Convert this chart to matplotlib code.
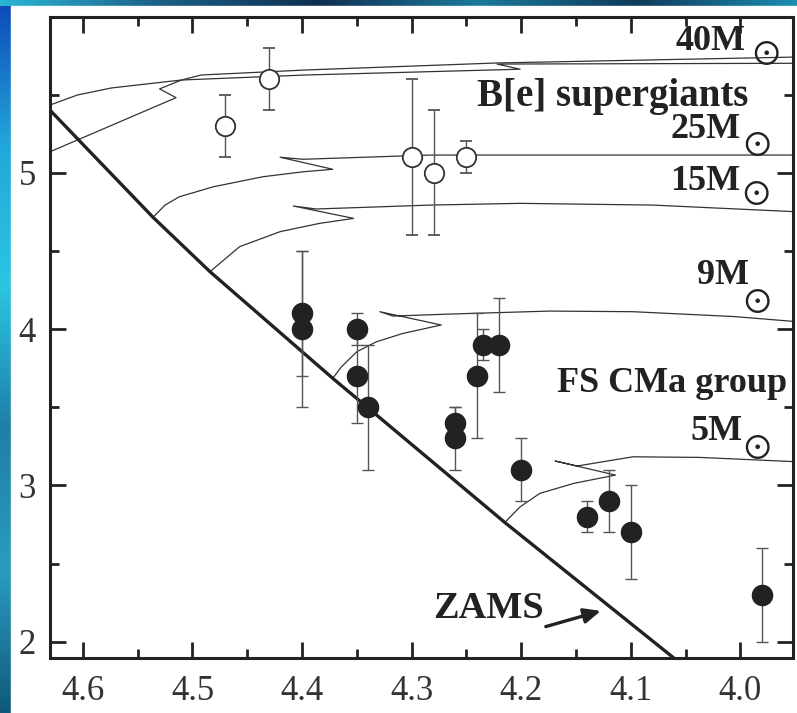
import numpy as np
import matplotlib
matplotlib.use('Agg')
import matplotlib.pyplot as plt
from matplotlib.colors import LinearSegmentedColormap
from matplotlib.patches import Rectangle
from matplotlib.ticker import FixedLocator, MultipleLocator, FormatStrFormatter

# B[e] supergiants (open circles): log Teff, log L/Lsun, error
be_teff = [4.47, 4.43, 4.30, 4.28, 4.25]
be_lum = [5.3, 5.6, 5.1, 5.0, 5.1]
be_err = [0.2, 0.2, 0.5, 0.4, 0.1]

# FS CMa group (filled circles)
fs_teff = [4.40, 4.40, 4.35, 4.35, 4.34, 4.26, 4.26, 4.24, 4.235, 4.22,
           4.20, 4.14, 4.12, 4.10, 3.98]
fs_lum = [4.1, 4.0, 4.0, 3.7, 3.5, 3.4, 3.3, 3.7, 3.9, 3.9,
          3.1, 2.8, 2.9, 2.7, 2.3]
fs_err = [0.4, 0.5, 0.1, 0.3, 0.4, 0.1, 0.2, 0.4, 0.1, 0.3,
          0.2, 0.1, 0.2, 0.3, 0.3]

# zero-age main sequence
zams_teff = [4.630, 4.536, 4.484, 4.372, 4.215, 4.062]
zams_lum = [5.40, 4.715, 4.367, 3.685, 2.763, 1.903]

# evolutionary tracks
trk_a_teff = [4.630, 4.605, 4.574, 4.534, 4.510, 4.492, 4.397, 4.222, 3.948]
trk_a_lum = [5.433, 5.497, 5.542, 5.574, 5.593, 5.625, 5.657, 5.702, 5.740]
trk_b_teff = [4.630, 4.515, 4.530, 4.510, 4.397, 4.201, 4.222, 3.948]
trk_b_lum = [5.134, 5.480, 5.536, 5.593, 5.625, 5.662, 5.695, 5.700]
trk25_teff = [4.536, 4.525, 4.512, 4.481, 4.436, 4.399, 4.372, 4.420, 4.399,
              4.283, 3.948]
trk25_lum = [4.715, 4.793, 4.846, 4.910, 4.974, 5.006, 5.022, 5.099, 5.086,
             5.113, 5.113]
trk15_teff = [4.484, 4.457, 4.420, 4.384, 4.353, 4.408, 4.387, 4.283, 4.201,
              4.080, 3.948]
trk15_lum = [4.367, 4.527, 4.623, 4.676, 4.708, 4.787, 4.768, 4.793, 4.804,
             4.793, 4.750]
trk9_teff = [4.372, 4.364, 4.350, 4.332, 4.308, 4.273, 4.329, 4.317, 4.265,
             4.174, 4.098, 4.006, 3.948]
trk9_lum = [3.685, 3.759, 3.855, 3.919, 3.972, 4.026, 4.111, 4.083, 4.096,
            4.115, 4.111, 4.080, 4.047]
trk5_teff = [4.215, 4.201, 4.183, 4.152, 4.114, 4.169, 4.149, 4.098, 4.037,
             3.948]
trk5_lum = [2.763, 2.863, 2.949, 3.013, 3.066, 3.156, 3.124, 3.183, 3.179,
            3.151]

W, H = 797, 713
serif = ['Liberation Serif', 'DejaVu Serif']
ink = '#222222'

fig = plt.figure(figsize=(W / 100, H / 100), dpi=100)

# framed background
bg = fig.add_axes([0, 0, 1, 1])
bg.set_xlim(0, 1)
bg.set_ylim(0, 1)
bg.axis('off')
vcmap = LinearSegmentedColormap.from_list(
    'vblue', ['#10597c', '#2a9cc0', '#1f7ea8', '#2bc6e2', '#22a6da', '#0d48b8'])
hcmap = LinearSegmentedColormap.from_list(
    'hblue', ['#2bb6d6', '#1a5f86', '#0f2f50', '#1a7a9c', '#0f3a5a', '#1b8cb0'])
grad = np.linspace(0, 1, 256)
bg.imshow(grad[::-1, None], cmap=vcmap, extent=[0, 1, 0, 1], aspect='auto')
bg.imshow(grad[None, :], cmap=hcmap, extent=[0, 1, 1 - 6 / H, 1], aspect='auto')
bg.add_patch(Rectangle((11 / W, 0), 1 - 11 / W, 1 - 6 / H, color='white'))

ax = fig.add_axes([50 / W, (H - 658) / H, (793 - 50) / W, (658 - 17) / H])
ax.set_facecolor('white')
ax.set_xlim(4.63, 3.952)
ax.set_ylim(1.896, 5.996)

tk = dict(color='#333333', lw=0.9, zorder=2)
ax.plot(trk_a_teff, trk_a_lum, **tk)
ax.plot(trk_b_teff, trk_b_lum, **tk)
ax.plot(trk25_teff, trk25_lum, **tk)
ax.plot(trk15_teff, trk15_lum, **tk)
ax.plot(trk9_teff, trk9_lum, **tk)
ax.plot(trk5_teff, trk5_lum, **tk)
ax.plot(zams_teff, zams_lum, color=ink, lw=2.4, zorder=3)

ax.errorbar(be_teff, be_lum, yerr=be_err, fmt='o', ms=14, mfc='white',
            mec='#333333', mew=1.3, ecolor='#555555', elinewidth=1.0,
            capsize=4.5, capthick=1.0, zorder=4)
ax.errorbar(fs_teff, fs_lum, yerr=fs_err, fmt='o', ms=14.5, mfc=ink,
            mec=ink, ecolor='#555555', elinewidth=1.0,
            capsize=4.5, capthick=1.0, zorder=4)

lab = dict(family=serif, fontweight='bold', fontsize=26, color=ink,
           ha='left', va='baseline', zorder=5)
# solar symbol from the STIX math font
sun = dict(math_fontfamily='stix', fontsize=26, color=ink,
           ha='center', va='center', zorder=5)
odot = r'$\odot$'
ax.text(4.059, 5.785, '40M', **lab)
ax.text(3.977, 5.774, odot, **sun)
ax.text(4.240, 5.427, 'B[e] supergiants', **dict(lab, fontsize=28))
ax.text(4.064, 5.220, '25M', **lab)
ax.text(3.985, 5.188, odot, **sun)
ax.text(4.064, 4.889, '15M', **lab)
ax.text(3.986, 4.878, odot, **sun)
ax.text(4.040, 4.288, '9M', **lab)
ax.text(3.985, 4.186, odot, **sun)
ax.text(4.167, 3.600, 'FS CMa group', **lab)
ax.text(4.046, 3.290, '5M', **lab)
ax.text(3.985, 3.251, odot, **sun)
ax.text(4.280, 2.151, 'ZAMS', **dict(lab, fontsize=27.5))
ax.annotate('', xy=(4.125, 2.202), xytext=(4.180, 2.092),
            arrowprops=dict(arrowstyle='-|>,head_length=1.0,head_width=0.45',
                            color=ink, lw=2.4))

ax.xaxis.set_major_locator(MultipleLocator(0.1))
ax.xaxis.set_minor_locator(MultipleLocator(0.05))
ax.yaxis.set_major_locator(FixedLocator([2, 3, 4, 5]))
ax.yaxis.set_minor_locator(FixedLocator([2.5, 3.5, 4.5, 5.5]))
ax.xaxis.set_major_formatter(FormatStrFormatter('%.1f'))
ax.yaxis.set_major_formatter(FormatStrFormatter('%d'))
ax.tick_params(which='both', direction='in', top=True, right=True,
               width=2, color=ink, labelcolor='#333333')
ax.tick_params(which='major', length=11.5, labelsize=25)
ax.tick_params(axis='x', which='major', pad=12)
ax.tick_params(axis='y', which='major', pad=10)
ax.tick_params(which='minor', length=6.5)
for t in ax.get_xticklabels() + ax.get_yticklabels():
    t.set_family(serif)
for s in ax.spines.values():
    s.set_linewidth(2.2)
    s.set_color(ink)

fig.savefig('out.png', dpi=100)
